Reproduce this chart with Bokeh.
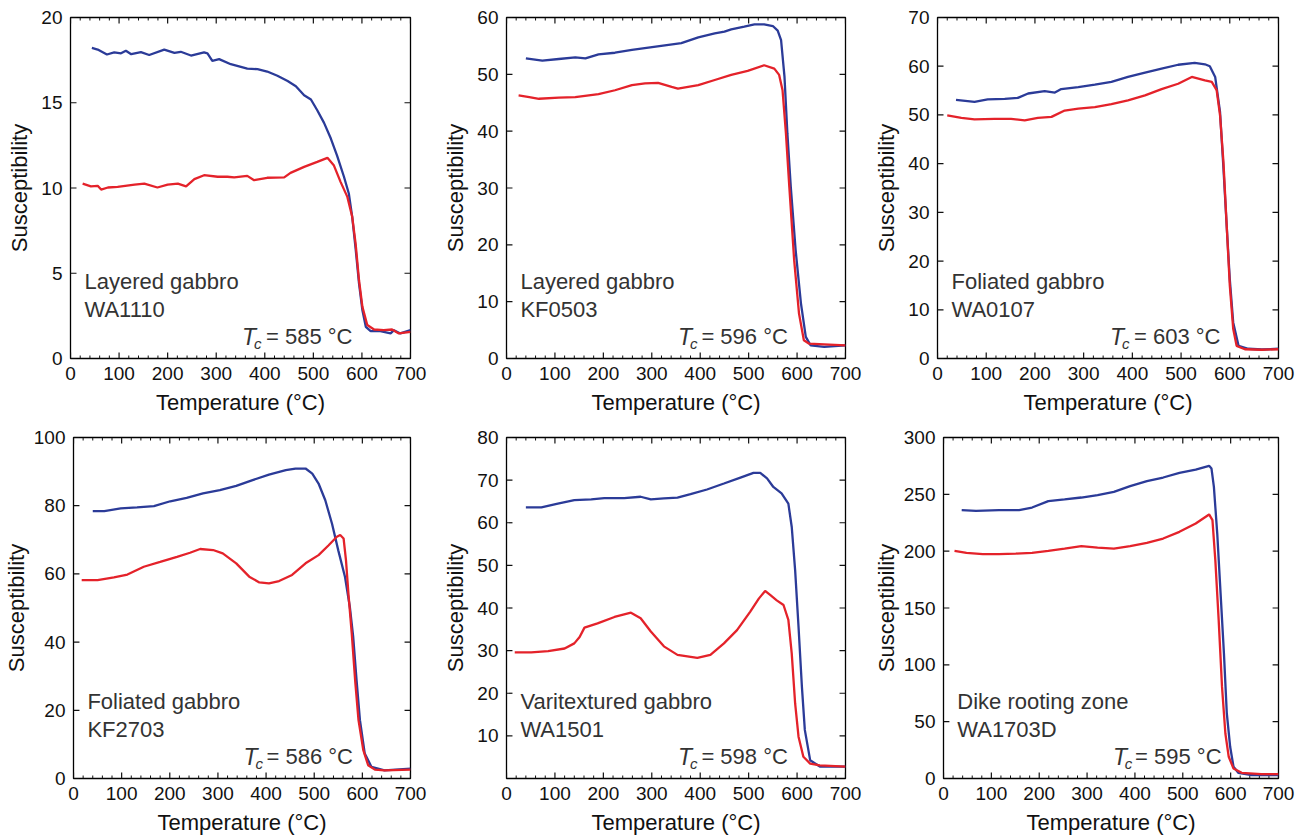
from bokeh.plotting import figure
from bokeh.layouts import row, column
from bokeh.models import FixedTicker, Label, Range1d
from bokeh.embed import file_html
from bokeh.resources import INLINE

# ---------------- data ----------------
x_ticks = [0, 100, 200, 300, 400, 500, 600, 700]
x_minor_ticks = [t for t in range(0, 701, 20) if t % 100 != 0]

names = ["Layered gabbro", "Layered gabbro", "Foliated gabbro",
         "Foliated gabbro", "Varitextured gabbro", "Dike rooting zone"]
samples = ["WA1110", "KF0503", "WA0107", "KF2703", "WA1501", "WA1703D"]
curie_temps = [585, 596, 603, 586, 598, 595]
y_max = [20, 60, 70, 100, 80, 300]
y_ticks_1 = [0, 5, 10, 15, 20]
y_ticks_2 = [0, 10, 20, 30, 40, 50, 60]
y_ticks_3 = [0, 10, 20, 30, 40, 50, 60, 70]
y_ticks_4 = [0, 20, 40, 60, 80, 100]
y_ticks_5 = [10, 20, 30, 40, 50, 60, 70, 80]
y_ticks_6 = [0, 50, 100, 150, 200, 250, 300]

# Panel 1: WA1110
cool1_T = [44, 56, 75, 90, 104, 114, 125, 145, 162, 193, 214, 227, 248, 275, 282, 292, 306, 330, 364, 385,
           405, 426, 447, 464, 481, 495, 508, 522, 536, 549, 563, 573, 580, 587, 594, 601, 608, 618, 638, 659,
           666, 679, 700]
cool1_k = [18.22, 18.12, 17.83, 17.95, 17.9, 18.05, 17.85, 17.97, 17.8, 18.12, 17.93, 17.99, 17.77, 17.95, 17.9,
           17.46, 17.56, 17.26, 17.0, 16.97, 16.83, 16.58, 16.27, 15.97, 15.44, 15.19, 14.56, 13.82, 12.9, 11.89,
           10.66, 9.68, 8.31, 6.45, 4.4, 2.83, 1.86, 1.6, 1.6, 1.47, 1.66, 1.47, 1.66]
heat1_T = [25, 42, 56, 63, 77, 97, 132, 152, 179, 200, 221, 238, 255, 275, 303, 323, 337, 364, 378, 405,
           440, 453, 481, 508, 529, 542, 556, 570, 580, 587, 594, 601, 611, 625, 645, 662, 676, 700]
heat1_k = [10.26, 10.1, 10.13, 9.91, 10.03, 10.07, 10.2, 10.26, 10.03, 10.2, 10.26, 10.1, 10.52, 10.75, 10.66,
           10.66, 10.62, 10.71, 10.46, 10.6, 10.62, 10.89, 11.24, 11.53, 11.77, 11.34, 10.36, 9.48, 8.31, 6.74,
           4.59, 3.03, 1.96, 1.7, 1.66, 1.7, 1.47, 1.56]

# Panel 2: KF0503
cool2_T = [40, 74, 108, 142, 163, 190, 224, 259, 293, 327, 361, 396, 430, 450, 464, 491, 512, 532, 550, 560,
           567, 574, 580, 587, 597, 608, 618, 628, 656, 700]
cool2_k = [52.8, 52.4, 52.7, 53.0, 52.8, 53.5, 53.8, 54.3, 54.7, 55.1, 55.5, 56.5, 57.2, 57.5, 57.9, 58.4, 58.8,
           58.8, 58.5, 57.7, 56.0, 49.6, 39.6, 30.2, 19.1, 9.7, 3.8, 2.3, 2.05, 2.3]
heat2_T = [25, 47, 67, 108, 142, 190, 224, 259, 286, 313, 341, 354, 396, 430, 464, 498, 532, 553, 563, 570,
           577, 584, 594, 604, 614, 625, 656, 700]
heat2_k = [46.3, 46.0, 45.7, 45.9, 46.0, 46.5, 47.2, 48.1, 48.4, 48.5, 47.8, 47.5, 48.1, 49.0, 49.9, 50.6, 51.6,
           51.0, 49.9, 47.2, 39.6, 30.2, 17.3, 7.9, 3.2, 2.6, 2.5, 2.3]

# Panel 3: WA0107
cool3_T = [38, 76, 103, 138, 165, 186, 220, 241, 254, 289, 323, 357, 391, 426, 460, 494, 528, 549, 559, 570,
           580, 587, 594, 600, 607, 618, 638, 666, 700]
cool3_k = [53.1, 52.7, 53.2, 53.3, 53.5, 54.4, 54.9, 54.6, 55.3, 55.7, 56.2, 56.8, 57.8, 58.7, 59.5, 60.3, 60.7,
           60.4, 60.0, 57.8, 50.6, 39.0, 26.6, 16.3, 7.4, 2.6, 2.0, 1.85, 2.0]
heat3_T = [20, 49, 76, 117, 151, 179, 206, 234, 261, 289, 323, 357, 391, 426, 460, 494, 522, 549, 563, 573,
           580, 587, 594, 600, 607, 614, 631, 666, 700]
heat3_k = [49.9, 49.4, 49.1, 49.2, 49.2, 48.9, 49.4, 49.6, 50.9, 51.3, 51.6, 52.2, 53.0, 54.0, 55.3, 56.4, 57.8,
           57.1, 56.8, 55.1, 49.9, 40.3, 26.6, 15.0, 6.1, 2.6, 1.9, 1.8, 1.9]

# Panel 4: KF2703
cool4_T = [40, 64, 98, 132, 167, 201, 235, 269, 304, 338, 372, 406, 441, 461, 482, 496, 509, 523, 537, 550,
           564, 574, 581, 588, 595, 605, 619, 646, 700]
cool4_k = [78.4, 78.4, 79.2, 79.5, 79.9, 81.3, 82.3, 83.6, 84.6, 85.8, 87.5, 89.1, 90.4, 90.9, 90.9, 89.4, 86.5,
           81.6, 74.7, 66.9, 59.1, 50.3, 41.5, 28.8, 17.1, 7.3, 3.4, 2.4, 2.9]
heat4_T = [17, 50, 84, 112, 146, 180, 215, 242, 263, 290, 310, 338, 365, 386, 406, 427, 454, 482, 509, 530,
           547, 554, 561, 566, 571, 578, 585, 592, 602, 612, 626, 646, 700]
heat4_k = [58.2, 58.2, 59.0, 59.8, 62.1, 63.5, 65.0, 66.2, 67.3, 67.0, 66.0, 63.1, 59.2, 57.5, 57.2, 57.9, 59.7,
           63.1, 65.5, 68.4, 70.9, 71.4, 70.4, 64.0, 54.3, 42.5, 28.8, 17.1, 8.3, 3.9, 2.6, 2.4, 2.6]

# Panel 5: WA1501
cool5_T = [40, 72, 106, 140, 175, 202, 243, 277, 298, 325, 353, 380, 414, 449, 483, 510, 524, 538, 551, 568,
           582, 589, 596, 603, 610, 616, 627, 647, 700]
cool5_k = [63.6, 63.6, 64.5, 65.3, 65.5, 65.8, 65.8, 66.1, 65.5, 65.7, 65.9, 66.7, 67.8, 69.2, 70.6, 71.7, 71.7,
           70.4, 68.4, 66.9, 64.5, 59.0, 48.9, 35.6, 21.5, 11.4, 4.3, 2.8, 2.8]
heat5_T = [17, 51, 86, 120, 140, 151, 161, 188, 223, 257, 277, 298, 325, 353, 394, 421, 449, 476, 503, 521,
           534, 545, 558, 572, 582, 589, 596, 603, 613, 627, 647, 700]
heat5_k = [29.6, 29.6, 29.9, 30.5, 31.7, 33.2, 35.4, 36.4, 37.9, 38.9, 37.6, 34.5, 31.0, 29.0, 28.3, 29.0, 31.7,
           34.8, 39.1, 42.2, 44.0, 43.0, 41.8, 40.7, 37.2, 29.3, 17.6, 9.8, 5.1, 3.5, 3.1, 2.8]

# Panel 6: WA1703D
cool6_T = [38, 68, 116, 158, 185, 219, 253, 288, 322, 356, 390, 425, 459, 493, 527, 555, 560, 565, 572, 579,
           586, 592, 599, 606, 616, 644, 700]
cool6_k = [236.1, 235.5, 236.1, 236.1, 238.4, 244.0, 245.5, 247.2, 249.3, 252.2, 257.2, 261.6, 264.8, 268.9,
           271.8, 275.1, 272.7, 256.6, 215.5, 162.8, 110.0, 57.2, 27.9, 10.3, 5.0, 3.0, 3.0]
heat6_T = [23, 48, 82, 116, 151, 185, 219, 253, 288, 322, 356, 390, 425, 459, 493, 527, 555, 562, 568, 575,
           582, 589, 596, 606, 623, 664, 700]
heat6_k = [200.3, 198.5, 197.4, 197.4, 197.9, 198.5, 200.3, 202.3, 204.4, 203.2, 202.3, 204.4, 207.3, 211.1,
           217.0, 224.3, 232.3, 227.3, 192.1, 139.3, 80.6, 39.6, 19.1, 8.8, 5.0, 3.8, 3.8]

# ---------------- styling ----------------
FONT = "Liberation Sans"
BLUE = "#2b3b98"
RED = "#e4222a"
INK = "#111111"
ANN = "#333333"

# column geometry: (width, min_border_left, min_border_right)
cols = [(440, 70, 30), (430, 64, 25), (430, 67, 22)]
# row geometry: (height, min_border_top, min_border_bottom)
rows = [(420, 17, 62), (419, 17, 61)]
FH = 341
MAJOR_PX = 6
MINOR_PX = 3


def style_axis(ax, ticks):
    ax.ticker = FixedTicker(ticks=ticks, minor_ticks=[])
    ax.axis_line_color = None
    ax.major_tick_in = 0
    ax.major_tick_out = 0
    ax.minor_tick_in = 0
    ax.minor_tick_out = 0
    ax.major_tick_line_color = None
    ax.minor_tick_line_color = None
    ax.major_label_text_font = FONT
    ax.major_label_text_font_size = "19px"
    ax.major_label_text_color = INK
    ax.axis_label_text_font = FONT
    ax.axis_label_text_font_size = "22px"
    ax.axis_label_text_font_style = "normal"
    ax.axis_label_text_color = INK


def make_panel(i, heat_T, heat_k, cool_T, cool_k, y_ticks):
    r, c = divmod(i, 3)
    W, bl, br = cols[c]
    H, bt, bb = rows[r]
    FW = W - bl - br
    ymax = y_max[i]
    p = figure(width=W, height=H, x_range=Range1d(0, 700), y_range=Range1d(0, ymax),
               output_backend="svg", toolbar_location=None,
               min_border_left=bl, min_border_right=br, min_border_top=bt, min_border_bottom=bb,
               background_fill_color="white", border_fill_color="white",
               outline_line_color="black", outline_line_width=1.3)
    p.xgrid.visible = False
    p.ygrid.visible = False

    style_axis(p.xaxis[0], x_ticks)
    p.xaxis[0].axis_label = "Temperature (°C)"
    p.xaxis[0].major_label_standoff = 8
    p.xaxis[0].axis_label_standoff = 7
    style_axis(p.yaxis[0], y_ticks)
    p.yaxis[0].axis_label = "Susceptibility"
    p.yaxis[0].major_label_standoff = 8
    p.yaxis[0].axis_label_standoff = 2 if max(y_ticks) >= 100 else 6

    # inward tick marks on all four sides (lengths converted from pixels to data units)
    ty_major = MAJOR_PX * ymax / FH
    ty_minor = MINOR_PX * ymax / FH
    tx_major = MAJOR_PX * 700.0 / FW
    nM, nm, ny = len(x_ticks), len(x_minor_ticks), len(y_ticks)
    seg = dict(line_color=INK)
    p.segment(x0=x_ticks, y0=[0] * nM, x1=x_ticks, y1=[ty_major] * nM, line_width=1.2, **seg)
    p.segment(x0=x_ticks, y0=[ymax] * nM, x1=x_ticks, y1=[ymax - ty_major] * nM, line_width=1.2, **seg)
    p.segment(x0=x_minor_ticks, y0=[0] * nm, x1=x_minor_ticks, y1=[ty_minor] * nm, line_width=1.0, **seg)
    p.segment(x0=x_minor_ticks, y0=[ymax] * nm, x1=x_minor_ticks, y1=[ymax - ty_minor] * nm,
              line_width=1.0, **seg)
    p.segment(x0=[0] * ny, y0=y_ticks, x1=[tx_major] * ny, y1=y_ticks, line_width=1.2, **seg)
    p.segment(x0=[700] * ny, y0=y_ticks, x1=[700 - tx_major] * ny, y1=y_ticks, line_width=1.2, **seg)

    p.line(cool_T, cool_k, line_color=BLUE, line_width=2.3)
    p.line(heat_T, heat_k, line_color=RED, line_width=2.3)

    def dx(px):
        return px * 700.0 / FW

    def dy(px):
        return px * ymax / FH

    for txt, ybase in ((names[i], 77), (samples[i], 49)):
        p.add_layout(Label(x=dx(14), y=dy(ybase), text=txt, text_font=FONT, text_font_size="22px",
                           text_color=ANN, text_align="left", text_baseline="alphabetic"))
    xr = FW - 58
    p.add_layout(Label(x=dx(xr), y=dy(22), text="= %d °C" % curie_temps[i], text_font=FONT,
                       text_font_size="22px", text_color=ANN, text_align="right",
                       text_baseline="alphabetic"))
    p.add_layout(Label(x=dx(xr - 86.5 - 24), y=dy(22), text="T", text_font=FONT,
                       text_font_size="23px", text_font_style="italic", text_color=ANN,
                       text_align="left", text_baseline="alphabetic"))
    p.add_layout(Label(x=dx(xr - 86.5 - 12), y=dy(15), text="c", text_font=FONT,
                       text_font_size="15px", text_font_style="italic", text_color=ANN,
                       text_align="left", text_baseline="alphabetic"))
    return p


panels = [
    make_panel(0, heat1_T, heat1_k, cool1_T, cool1_k, y_ticks_1),
    make_panel(1, heat2_T, heat2_k, cool2_T, cool2_k, y_ticks_2),
    make_panel(2, heat3_T, heat3_k, cool3_T, cool3_k, y_ticks_3),
    make_panel(3, heat4_T, heat4_k, cool4_T, cool4_k, y_ticks_4),
    make_panel(4, heat5_T, heat5_k, cool5_T, cool5_k, y_ticks_5),
    make_panel(5, heat6_T, heat6_k, cool6_T, cool6_k, y_ticks_6),
]

layout = column(row(*panels[:3], spacing=0), row(*panels[3:], spacing=0), spacing=0)

with open("out.html", "w") as f:
    f.write(file_html(layout, INLINE))
